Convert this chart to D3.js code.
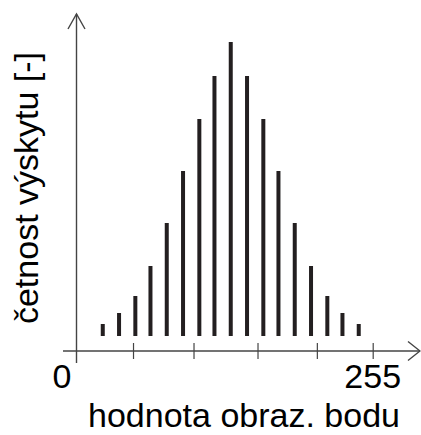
<!DOCTYPE html>
<html><head><meta charset="utf-8">
<script src="https://cdn.jsdelivr.net/npm/d3@7"></script>
<style>html,body{margin:0;padding:0;background:#fff;}svg{display:block;}</style>
</head><body>
<script>
const binValues = [23, 37, 51, 64, 78, 92, 106, 119, 133, 147, 161, 174, 188, 202, 216, 229, 243];
const counts = [12, 23, 40, 70, 113, 165, 217, 260, 294, 260, 217, 165, 113, 70, 40, 23, 12];
const tickValues = [49, 101, 156, 207, 255];
const xLabels = ["0", "255"];
const xTitle = "hodnota obraz. bodu";
const yTitle = "četnost výskytu [-]";

const W = 421, H = 435;
const svg = d3.select("body").append("svg").attr("width", W).attr("height", H);
const x = d3.scaleLinear().domain([0, 255]).range([76, 372.7]);
const y = d3.scaleLinear().domain([0, 300]).range([336, 36]);
const axisY = 351;
const axisColor = "#444";
const font = "'Liberation Sans', Arial, sans-serif";

// bars
svg.append("g").selectAll("rect").data(binValues).join("rect")
  .attr("x", (d) => x(d) - 2)
  .attr("width", 4)
  .attr("y", (d, i) => y(counts[i]))
  .attr("height", (d, i) => y(0) - y(counts[i]))
  .attr("fill", "#231f20");

// x axis line with arrow
svg.append("line").attr("x1", 63).attr("x2", 420).attr("y1", axisY).attr("y2", axisY)
  .attr("stroke", axisColor).attr("stroke-width", 1.4);
svg.append("path").attr("d", `M408,341.5 L420,${axisY} L408,360.5`)
  .attr("fill", "none").attr("stroke", axisColor).attr("stroke-width", 1.4);
// y axis line with arrow
svg.append("line").attr("x1", 76.5).attr("x2", 76.5).attr("y1", 363).attr("y2", 14)
  .attr("stroke", axisColor).attr("stroke-width", 1.4);
svg.append("path").attr("d", "M68,29 L76.5,14 L85,29")
  .attr("fill", "none").attr("stroke", axisColor).attr("stroke-width", 1.4);

// ticks via d3 axis
const axis = d3.axisBottom(x).tickValues(tickValues).tickSize(16).tickFormat("");
const gAx = svg.append("g").attr("transform", `translate(0,${axisY - 8})`).call(axis);
gAx.select(".domain").remove();
gAx.selectAll(".tick line").attr("stroke", axisColor).attr("stroke-width", 1.2);

// tick labels
svg.append("text").attr("x", 62).attr("y", 388).attr("text-anchor", "middle")
  .attr("font-family", font).attr("font-size", 34).attr("fill", "#000").text(xLabels[0]);
svg.append("text").attr("x", x(255)).attr("y", 388).attr("text-anchor", "middle")
  .attr("font-family", font).attr("font-size", 34).attr("fill", "#000").text(xLabels[1]);

// titles
svg.append("text").attr("x", 244).attr("y", 427).attr("text-anchor", "middle")
  .attr("font-family", font).attr("font-size", 34).attr("fill", "#000").text(xTitle);
svg.append("text").attr("transform", "translate(38,188) rotate(-90)").attr("text-anchor", "middle")
  .attr("font-family", font).attr("font-size", 34).attr("fill", "#000").text(yTitle);
</script>
</body></html>
